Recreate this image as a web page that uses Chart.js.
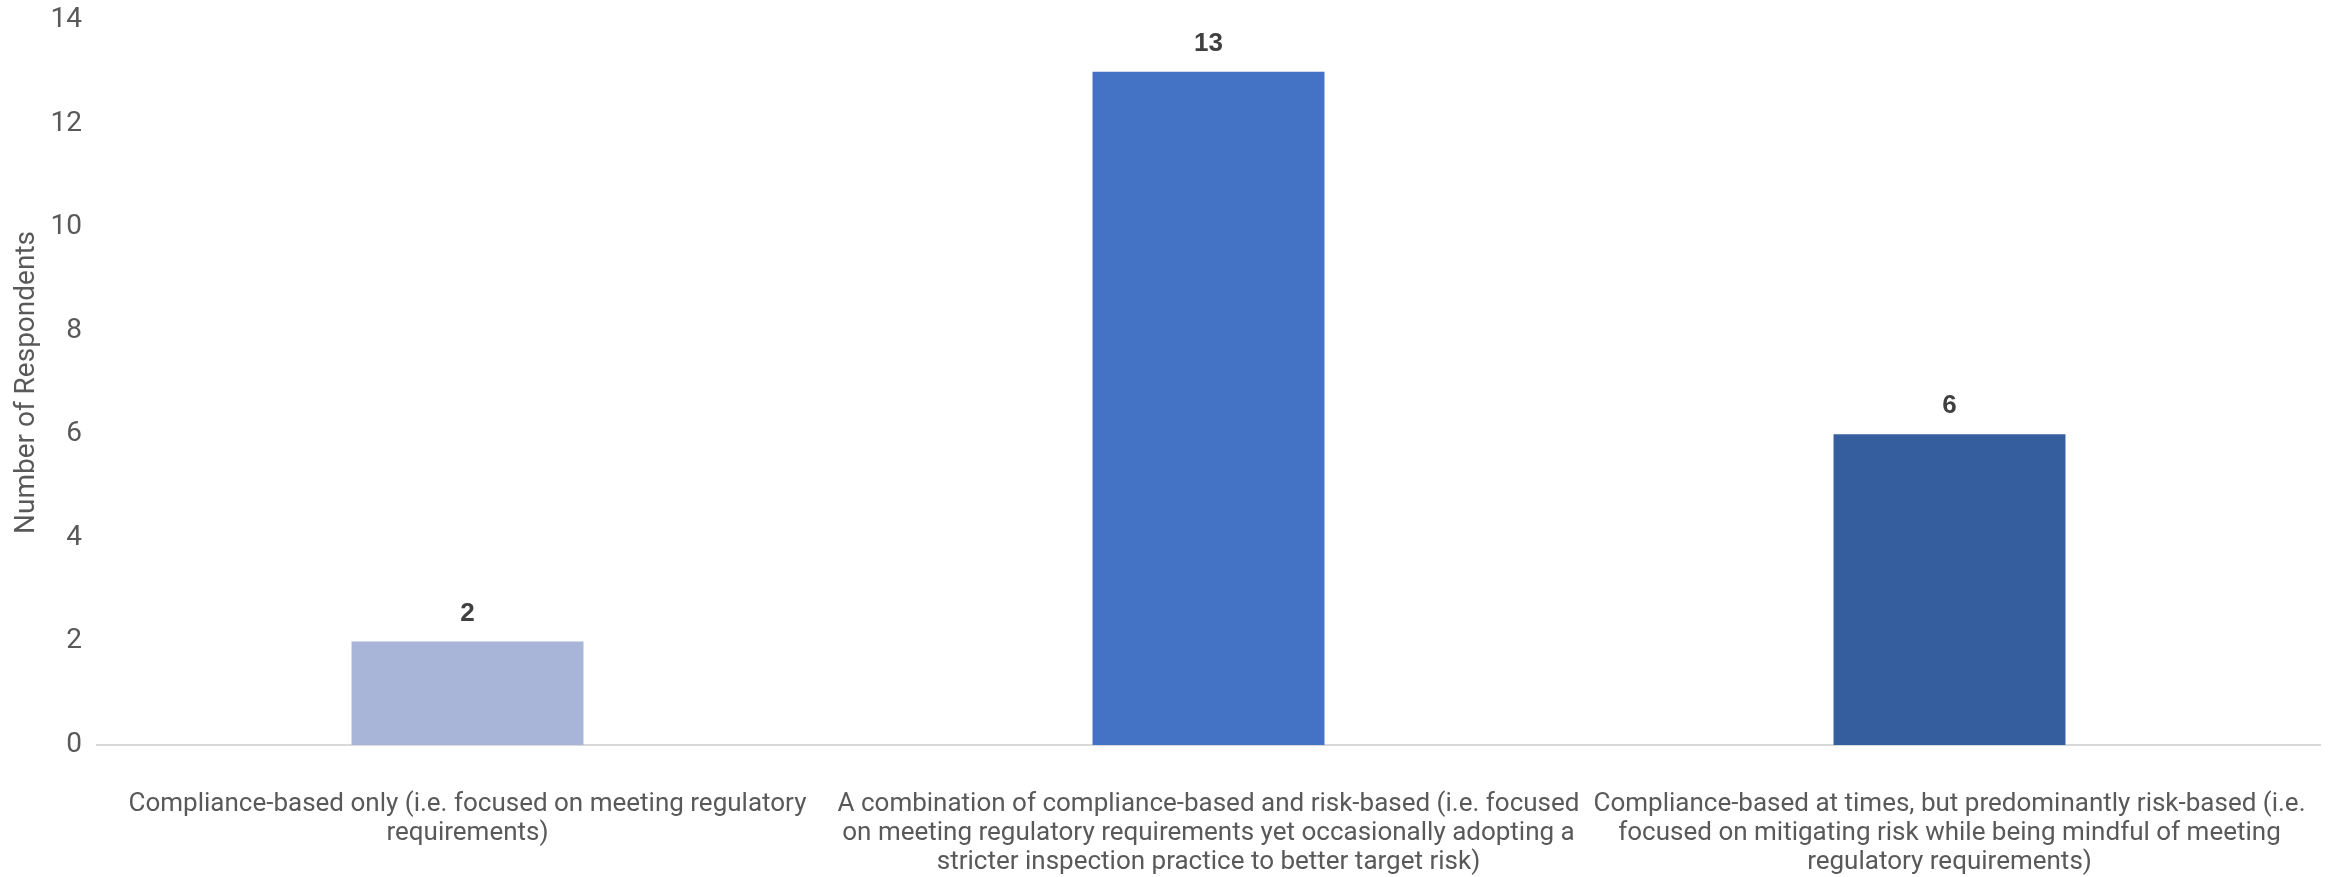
<!DOCTYPE html>
<html>
<head>
<meta charset="utf-8">
<script src="https://cdn.jsdelivr.net/npm/chart.js@4"></script>
<style>
  body { margin: 0; background: #fff; }
</style>
</head>
<body>
<canvas id="chart-approach" width="2331" height="877"></canvas>
<script>
// data
const categories = [
  ["Compliance-based only (i.e. focused on meeting regulatory", "requirements)"],
  ["A combination of compliance-based and risk-based (i.e. focused", "on meeting regulatory requirements yet occasionally adopting a", "stricter inspection practice to better target risk)"],
  ["Compliance-based at times, but predominantly risk-based (i.e.", "focused on mitigating risk while being mindful of meeting", "regulatory requirements)"]
];
const respondents = [2, 13, 6];
const barColors = ['#a8b5d9', '#4472c4', '#355e9f'];
const yMin = 0, yMax = 14, yStep = 2;
const yTitle = 'Number of Respondents';

// numbers above the bars
const valueLabels = {
  id: 'valueLabels',
  afterDatasetsDraw(chart) {
    const ctx = chart.ctx;
    const meta = chart.getDatasetMeta(0);
    ctx.save();
    ctx.font = 'bold 26px "Liberation Sans", Arial, sans-serif';
    ctx.fillStyle = '#404040';
    ctx.textAlign = 'center';
    ctx.textBaseline = 'bottom';
    meta.data.forEach((bar, i) => {
      ctx.fillText(respondents[i], bar.x, bar.y - 15);
    });
    ctx.restore();
  }
};

const ctx = document.getElementById('chart-approach').getContext('2d');

new Chart(ctx, {
  type: 'bar',
  data: {
    labels: categories,
    datasets: [{
      data: respondents,
      backgroundColor: barColors,
      borderWidth: 0,
      categoryPercentage: 1,
      barPercentage: 0.313
    }]
  },
  options: {
    responsive: false,
    animation: false,
    layout: { padding: { top: 20, right: 11, left: 0, bottom: 0 } },
    plugins: {
      legend: { display: false },
      tooltip: { enabled: false }
    },
    scales: {
      x: {
        grid: { display: false, drawTicks: false },
        border: { color: '#d9d9d9', width: 2 },
        ticks: {
          color: '#595959',
          padding: 45,
          maxRotation: 0,
          autoSkip: false,
          font: { family: 'Roboto, sans-serif', size: 26, lineHeight: '29px' }
        },
        afterFit(scale) {
          scale.height = 132;
          scale.paddingLeft = 0;
          scale.paddingRight = 0;
        }
      },
      y: {
        min: yMin,
        max: yMax,
        grid: { display: false, drawTicks: false },
        border: { display: false },
        ticks: {
          stepSize: yStep,
          color: '#595959',
          padding: 15,
          font: { family: 'Roboto, sans-serif', size: 28 }
        },
        title: {
          display: true,
          text: yTitle,
          color: '#595959',
          padding: { top: 10, bottom: 0 },
          font: { family: 'Roboto, sans-serif', size: 28 }
        },
        afterFit(scale) {
          scale.width = 97;
          scale.paddingTop = 0;
          scale.paddingBottom = 0;
        }
      }
    }
  },
  plugins: [valueLabels]
});
</script>
</body>
</html>
